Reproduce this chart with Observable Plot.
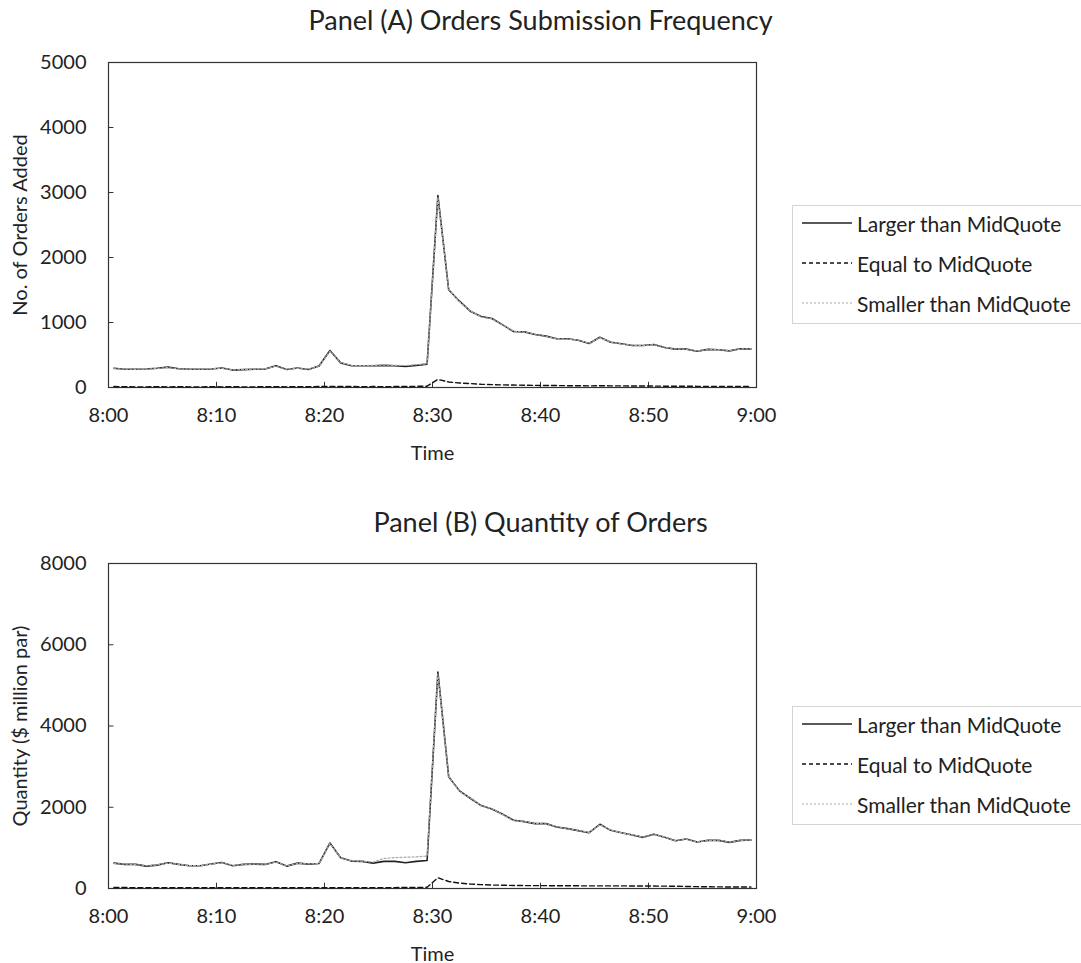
<!DOCTYPE html>
<html>
<head>
<meta charset="utf-8">
<script src="https://cdn.jsdelivr.net/npm/d3@7"></script>
<script src="https://cdn.jsdelivr.net/npm/@observablehq/plot@0.6"></script>
<style>
  html, body { margin: 0; padding: 0; background: #fff; }
  body { width: 1081px; height: 963px; overflow: hidden; position: relative; font-family: Lato, "Open Sans", sans-serif; color: #222; }
  .title { position: absolute; left: 0; width: 1081px; text-align: center; font-size: 27px; line-height: 32px; }
  .panel { position: absolute; left: 0; }
  .legend { position: absolute; left: 792px; width: 320px; border: 1px solid #d4d4d4; background: #fff; box-sizing: border-box; }
  .legend .row { position: absolute; left: 8px; display: flex; align-items: center; font-size: 21px; white-space: nowrap; }
  .legend svg { margin-right: 4px; }
</style>
</head>
<body>
<script>
// ---- data (one value per minute, 8:00-9:00) ----
const minuteIndex = d3.range(60);
const xTicks = [0, 10, 20, 30, 40, 50, 60];
const timeLabels = ["8:00", "8:10", "8:20", "8:30", "8:40", "8:50", "9:00"];
const seriesNames = ["Larger than MidQuote", "Equal to MidQuote", "Smaller than MidQuote"];

// Panel A: number of orders added
const ordersLarger = [297,280,280,285,295,313,288,280,280,285,300,268,275,280,285,333,277,300,278,330,569,379,335,335,335,340,335,322,340,360,
  2954,1503,1328,1174,1092,1061,964,862,856,815,790,749,749,728,677,774,697,672,646,646,662,615,590,590,559,587,580,564,595,595];
const ordersEqual = [15,12,10,10,12,10,12,10,10,12,10,12,10,10,12,12,10,12,12,15,18,15,15,12,15,12,15,15,18,20,
  125,85,70,60,50,45,40,38,35,32,30,30,28,28,25,28,25,25,22,22,22,20,20,20,18,18,18,18,18,18];
const ordersSmaller = [290,282,280,282,292,308,286,280,282,287,296,270,276,282,288,326,280,296,280,326,560,382,338,337,340,344,340,338,352,362,
  2930,1510,1320,1180,1085,1055,960,868,852,820,786,752,745,730,680,768,700,668,650,644,660,618,592,588,562,585,582,566,592,598];
const yTicksA = [0, 1000, 2000, 3000, 4000, 5000];

// Panel B: quantity of orders ($ million par)
const qtyLarger = [625,593,593,551,575,634,593,560,560,601,642,560,593,601,593,659,551,625,601,617,1119,757,675,667,625,667,667,634,667,691,
  5325,2749,2403,2222,2041,1959,1827,1679,1646,1597,1597,1514,1473,1424,1374,1580,1432,1374,1317,1259,1333,1259,1177,1218,1144,1185,1185,1136,1185,1193];
const qtyEqual = [25,25,20,20,20,20,20,20,20,20,20,20,20,20,20,20,20,20,20,20,20,20,20,20,22,22,22,25,25,30,
  263,173,132,110,95,85,80,75,72,70,70,68,66,66,65,65,64,64,63,62,60,58,55,50,45,42,40,38,36,35];
const qtySmaller = [615,600,590,560,580,625,596,565,565,598,635,566,590,598,596,650,558,620,604,620,1105,760,680,672,650,740,760,770,780,800,
  5280,2760,2390,2230,2035,1965,1820,1670,1650,1600,1590,1520,1470,1430,1380,1570,1440,1370,1320,1262,1330,1262,1180,1215,1148,1180,1190,1140,1182,1195];
const yTicksB = [0, 2000, 4000, 6000, 8000];

function rowsOf(larger, equal, smaller) {
  return minuteIndex.map(i => ({t: i + 0.5, larger: larger[i], equal: equal[i], smaller: smaller[i]}));
}

function panel({rows, yMax, yTicks, yLabel, tickLen}) {
  return Plot.plot({
    width: 800, height: 432,
    marginLeft: 108, marginTop: 22, marginRight: 44, marginBottom: 85,
    style: {fontFamily: "Lato, 'Open Sans', sans-serif", fontSize: "20px", color: "#222", background: "white"},
    x: {domain: [0, 60], ticks: xTicks, tickFormat: d => timeLabels[xTicks.indexOf(d)], tickSize: 0, tickPadding: 20,
        label: "Time", labelAnchor: "center", labelOffset: 72, labelArrow: "none"},
    y: {domain: [0, yMax], ticks: yTicks, tickFormat: d => String(d), tickSize: 0, tickPadding: 22,
        label: yLabel, labelAnchor: "center", labelOffset: 96, labelArrow: "none"},
    marks: [
      Plot.frame({stroke: "#333", strokeWidth: 1.2}),
      Plot.ruleX(xTicks, {x: d => d, y1: 0, y2: tickLen, stroke: "#333"}),
      Plot.ruleY(yTicks, {y: d => d, x1: 0, x2: 0.5, stroke: "#333"}),
      Plot.line(rows, {x: "t", y: "equal", stroke: "#111", strokeWidth: 1.4, strokeDasharray: "5,3"}),
      Plot.line(rows, {x: "t", y: "larger", stroke: "#222", strokeWidth: 1.6}),
      Plot.line(rows, {x: "t", y: "smaller", stroke: "#aaa", strokeWidth: 1.2, strokeDasharray: "2,2"})
    ]
  });
}

function addTitle(text, top) {
  const d = document.createElement("div");
  d.className = "title"; d.style.top = top + "px"; d.textContent = text;
  document.body.appendChild(d);
}

function addLegend(top) {
  const box = document.createElement("div");
  box.className = "legend"; box.style.top = top + "px"; box.style.height = "119px";
  const styles = [
    {stroke: "#222", dash: null, w: 1.6},
    {stroke: "#111", dash: "4,3", w: 1.4},
    {stroke: "#aaa", dash: "2,2", w: 1.2}
  ];
  seriesNames.forEach((name, i) => {
    const r = document.createElement("div");
    r.className = "row"; r.style.top = (2 + i * 40) + "px";
    const s = styles[i];
    r.innerHTML = `<svg width="52" height="30"><line x1="1" x2="51" y1="15" y2="15" stroke="${s.stroke}" stroke-width="${s.w}" ${s.dash ? `stroke-dasharray="${s.dash}"` : ""}/></svg><span>${name}</span>`;
    box.appendChild(r);
  });
  document.body.appendChild(box);
}

addTitle("Panel (A) Orders Submission Frequency", 4);
const a = panel({rows: rowsOf(ordersLarger, ordersEqual, ordersSmaller), yMax: 5000, yTicks: yTicksA, yLabel: "No. of Orders Added", tickLen: 80});
a.classList.add("panel"); a.style.top = "40px";
document.body.appendChild(a);
addLegend(205);

addTitle("Panel (B) Quantity of Orders", 506);
const b = panel({rows: rowsOf(qtyLarger, qtyEqual, qtySmaller), yMax: 8000, yTicks: yTicksB, yLabel: "Quantity ($ million par)", tickLen: 130});
b.classList.add("panel"); b.style.top = "541px";
document.body.appendChild(b);
addLegend(706);
</script>
</body>
</html>
